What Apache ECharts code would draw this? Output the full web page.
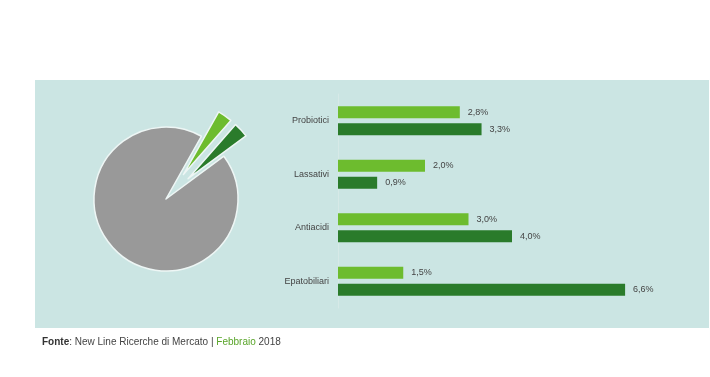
<!DOCTYPE html>
<html>
<head>
<meta charset="utf-8">
<script src="https://cdn.jsdelivr.net/npm/echarts@6/dist/echarts.min.js"></script>
<style>
  html, body { margin: 0; padding: 0; background: #fff; }
  #chart { width: 710px; height: 377px; }
</style>
</head>
<body>
<div id="chart"></div>
<script>
// dati
const categorie = ['Probiotici', 'Lassativi', 'Antiacidi', 'Epatobiliari']
const quotaChiara = [2.8, 2.0, 3.0, 1.5]
const quotaScura = [3.3, 0.9, 4.0, 6.6]
const tortaNomi = ['chiaro', 'scuro', 'altro']
const tortaValori = [3.3, 3.4, 93.3]

const font = "'Liberation Sans', Arial, sans-serif"
const verdeChiaro = '#6dbc2e'
const verdeScuro = '#2a7b2b'
const fmt = p => String(p.value.toFixed(1)).replace('.', ',') + '%'

const myChart = echarts.init(document.getElementById('chart'))
const option = {
    animation: false,
    textStyle: { fontFamily: font },
    graphic: [
        {
            type: 'rect',
            z: -10,
            shape: { x: 35, y: 80, width: 674, height: 248 },
            style: { fill: '#cbe5e3' }
        },
        {
            type: 'text',
            left: 42,
            top: 337,
            style: {
                text: '{b|Fonte}: New Line Ricerche di Mercato | {g|Febbraio} 2018',
                font: '10px ' + font,
                fill: '#444',
                rich: {
                    b: { fontWeight: 'bold', fontSize: 10, fontFamily: font, fill: '#333' },
                    g: { fontSize: 10, fontFamily: font, fill: '#5aa52a' }
                }
            }
        }
    ],
    grid: { left: 338, top: 94, height: 214, width: 348 },
    xAxis: {
        type: 'value',
        min: 0,
        max: 8,
        show: false
    },
    yAxis: {
        type: 'category',
        data: categorie,
        inverse: true,
        axisLine: { show: true, lineStyle: { color: '#d6e9e7', width: 1 } },
        axisTick: { show: false },
        axisLabel: { color: '#444', fontSize: 9, margin: 9, fontFamily: font }
    },
    series: [
        {
            type: 'pie',
            center: [166, 199],
            radius: 72,
            startAngle: 60.6,
            selectedMode: 'multiple',
            selectedOffset: 30,
            label: { show: false },
            labelLine: { show: false },
            emphasis: { disabled: true },
            itemStyle: { borderColor: '#eef6f5', borderWidth: 1.5 },
            data: tortaValori.map((v, i) => ({
                name: tortaNomi[i],
                value: v,
                selected: i < 2,
                itemStyle: { color: [verdeChiaro, verdeScuro, '#999999'][i] }
            }))
        },
        {
            type: 'bar',
            data: quotaChiara,
            barWidth: 12,
            barGap: '42%',
            itemStyle: { color: verdeChiaro },
            label: { show: true, position: 'right', distance: 8, color: '#444', fontSize: 9, fontFamily: font, formatter: fmt }
        },
        {
            type: 'bar',
            data: quotaScura,
            barWidth: 12,
            itemStyle: { color: verdeScuro },
            label: { show: true, position: 'right', distance: 8, color: '#444', fontSize: 9, fontFamily: font, formatter: fmt }
        }
    ]
}
myChart.setOption(option)
</script>
</body>
</html>
